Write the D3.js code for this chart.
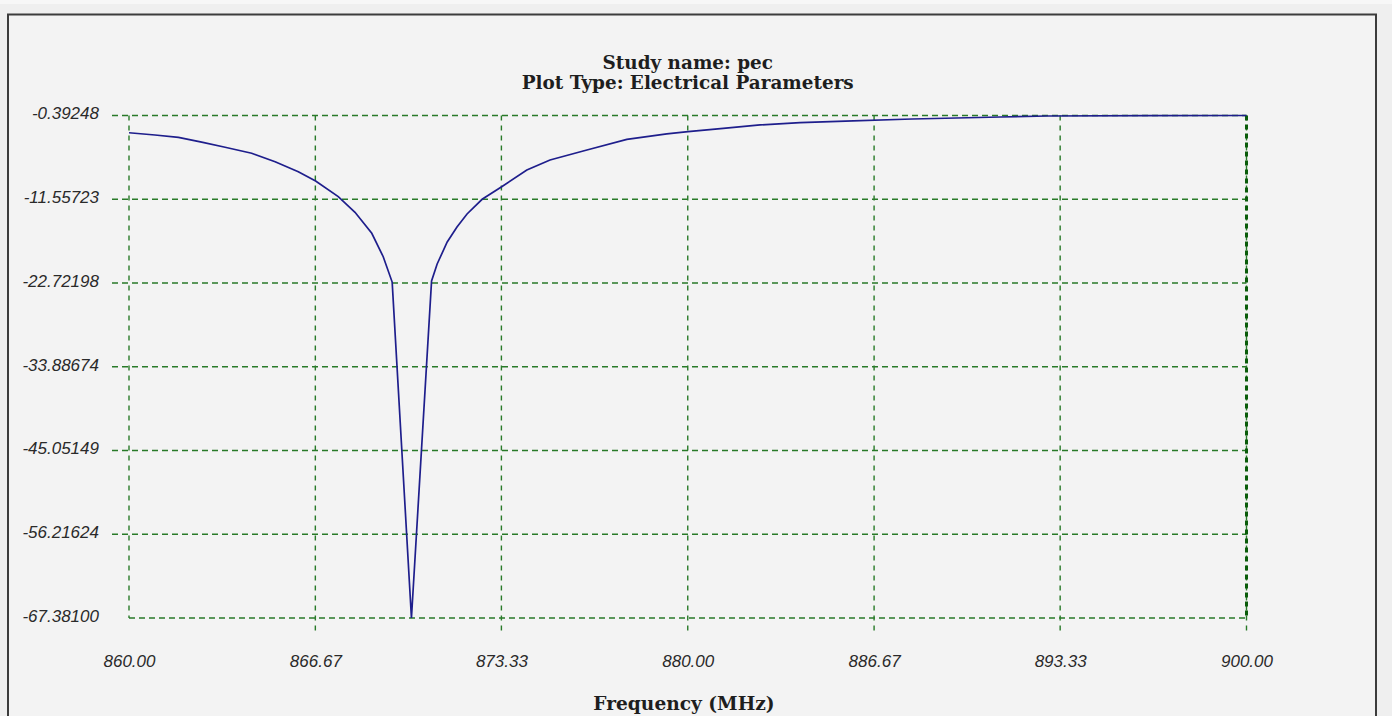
<!DOCTYPE html>
<html>
<head>
<meta charset="utf-8">
<script src="https://cdn.jsdelivr.net/npm/d3@7"></script>
<style>
  html, body { margin: 0; padding: 0; background: #efefef; }
  svg { display: block; }
</style>
</head>
<body>
<svg id="chart" width="1392" height="716"></svg>
<script>
// ---- data ----
const titleLines = ["Study name: pec", "Plot Type: Electrical Parameters"];
const xTitle = "Frequency (MHz)";
const freqTicks = [860, 866.67, 873.33, 880, 886.67, 893.33, 900];
const freqTickLabels = ["860.00", "866.67", "873.33", "880.00", "886.67", "893.33", "900.00"];
const valTicks = [-0.39248, -11.55723, -22.72198, -33.88674, -45.05149, -56.21624, -67.38100];
const valTickLabels = ["-0.39248", "-11.55723", "-22.72198", "-33.88674", "-45.05149", "-56.21624", "-67.38100"];
const freq = [860.00, 860.93, 861.77, 862.60, 863.44, 864.39, 865.23, 866.06, 866.68, 867.49,
              868.09, 868.69, 869.10, 869.42, 870.11, 870.83, 871.03, 871.39, 871.74, 872.10,
              872.64, 873.34, 874.24, 875.07, 876.39, 877.82, 879.25, 880.01, 881.27, 882.59,
              884.02, 885.64, 888.03, 891.19, 892.87, 896.56, 900.00];
const s11 = [-2.69, -2.99, -3.30, -3.95, -4.63, -5.43, -6.55, -7.88, -9.12, -11.20,
             -13.30, -16.10, -19.22, -22.60, -67.381, -22.46, -20.19, -17.25, -15.26, -13.52,
             -11.56, -9.88, -7.66, -6.33, -4.99, -3.58, -2.85, -2.55, -2.10, -1.65,
             -1.33, -1.13, -0.86, -0.59, -0.46, -0.42, -0.39248];

// ---- layout ----
const svg = d3.select("#chart");
const pL = 129, pR = 1246.5, pT = 115.5, pB = 618;
const ext = 17;
const gridColor = "#287a28";

const x = d3.scaleLinear().domain([860, 900]).range([pL, pR]);
const y = d3.scaleLinear().domain([-67.381, -0.39248]).range([pB, pT]);

// frame
svg.append("rect").attr("x", 0).attr("y", 0).attr("width", 1392).attr("height", 716).attr("fill", "#efefef");
svg.append("rect").attr("x", 0).attr("y", 0).attr("width", 1392).attr("height", 4).attr("fill", "#f7f7f7");
svg.append("rect").attr("x", 8).attr("y", 14.5).attr("width", 1368).attr("height", 720)
  .attr("fill", "#f3f3f3").attr("stroke", "#3c3c3c").attr("stroke-width", 2);

// grid
const grid = svg.append("g");
grid.selectAll("line.h").data(valTicks).join("line")
  .attr("class", "h")
  .attr("x1", (d, i) => i === valTicks.length - 1 ? pL : pL - ext)
  .attr("x2", pR)
  .attr("y1", d => y(d)).attr("y2", d => y(d))
  .attr("stroke", gridColor).attr("stroke-width", 1.4).attr("stroke-dasharray", "6,4");
grid.selectAll("line.v").data(freqTicks).join("line")
  .attr("class", "v")
  .attr("x1", d => x(d)).attr("x2", d => x(d))
  .attr("y1", pT)
  .attr("y2", (d, i) => i === 0 ? pB : pB + ext)
  .attr("stroke", gridColor).attr("stroke-width", 1.4).attr("stroke-dasharray", "5,5");
grid.append("line")
  .attr("x1", x(900)).attr("x2", x(900)).attr("y1", pT).attr("y2", pB)
  .attr("stroke", "#0a5c0a").attr("stroke-width", 3).attr("stroke-dasharray", "5,4");

// curve
const line = d3.line().x((d, i) => x(freq[i])).y(d => y(d));
svg.append("path").datum(s11)
  .attr("d", line)
  .attr("fill", "none").attr("stroke", "#1e1e8c").attr("stroke-width", 1.7)
  .attr("stroke-linejoin", "miter");

// axes (labels only)
const tickFont = "'Liberation Sans', Arial, sans-serif";
const xAxis = d3.axisBottom(x).tickValues(freqTicks)
  .tickFormat((d, i) => freqTickLabels[i]).tickSize(0).tickPadding(37);
const gx = svg.append("g").attr("transform", `translate(0,${pB})`).call(xAxis);
gx.select(".domain").remove();
gx.selectAll("text").attr("font-family", tickFont).attr("font-style", "italic")
  .attr("font-size", 17).attr("fill", "#2a2a2a");

const yAxis = d3.axisLeft(y).tickValues(valTicks)
  .tickFormat((d, i) => valTickLabels[i]).tickSize(0).tickPadding(30);
const gy = svg.append("g").attr("transform", `translate(${pL},0)`).call(yAxis);
gy.select(".domain").remove();
gy.selectAll("text").attr("font-family", tickFont).attr("font-style", "italic")
  .attr("font-size", 17).attr("fill", "#2a2a2a").attr("dy", "0.2em");

// titles
const serif = "'DejaVu Serif', serif";
svg.selectAll("text.title").data(titleLines).join("text")
  .attr("class", "title")
  .attr("x", (pL + pR) / 2).attr("y", (d, i) => 69 + i * 20)
  .attr("text-anchor", "middle")
  .attr("font-family", serif).attr("font-weight", "bold").attr("font-size", 18.4)
  .attr("fill", "#1e1e1e").text(d => d);

svg.append("text")
  .attr("x", 684).attr("y", 710)
  .attr("text-anchor", "middle")
  .attr("font-family", serif).attr("font-weight", "bold").attr("font-size", 18.6)
  .attr("fill", "#1e1e1e").text(xTitle);
</script>
</body>
</html>
